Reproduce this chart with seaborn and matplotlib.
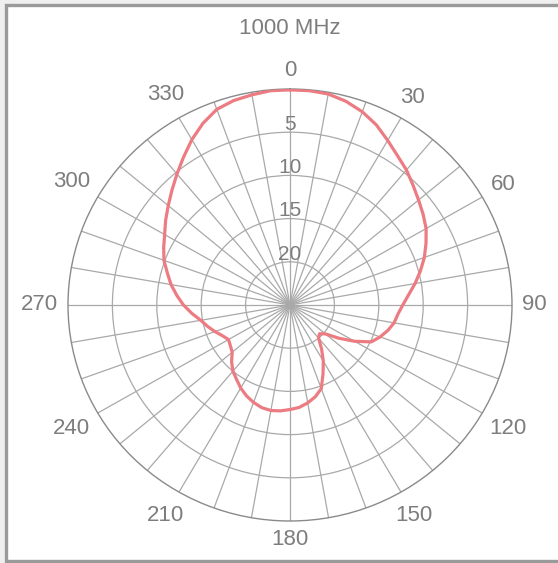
import matplotlib
matplotlib.use('Agg')
import matplotlib.pyplot as plt
import numpy as np
import pandas as pd
import seaborn as sns
from matplotlib.patches import Rectangle

# attenuation (dB below max), every 5 degrees
angles = list(range(0, 360, 5))
atten_db = [0.1, 0.1, 0.2, 0.6, 1.2, 2.0, 3.0, 3.9, 4.6, 5.4, 6.1, 6.7,
            7.3, 8.1, 8.9, 9.8, 10.7, 11.6, 12.3, 12.8, 13.1, 13.6, 14.2, 14.9,
            16.6, 18.3, 19.8, 20.3, 20.0, 18.8, 17.5, 16.2, 14.7, 14.0, 13.5, 13.1,
            12.9, 12.7, 12.6, 12.7, 13.0, 13.4, 13.9, 14.5, 15.0, 15.7, 16.5, 16.8,
            17.0, 16.6, 16.0, 15.4, 14.8, 13.9, 13.0, 12.2, 11.4, 10.7, 9.9, 9.3,
            8.7, 7.9, 7.1, 6.2, 5.2, 4.1, 2.9, 1.8, 0.9, 0.5, 0.3, 0.1]
ring_vals = [5, 10, 15, 20]
theta_labels = list(range(0, 360, 30))
title = '1000 MHz'

GREY = '#7d7d7d'
GRID = '#a9a9a9'
RED = '#ec7b82'

sns.set_theme(style='white')
plt.rcParams['font.family'] = ['Liberation Sans', 'DejaVu Sans']

# close the loop
df = pd.DataFrame({'theta': np.deg2rad(angles + [360]),
                   'db': atten_db + [atten_db[0]]})

fig = plt.figure(figsize=(5.58, 5.63), dpi=100, facecolor='#efefef')
fig.patches.append(Rectangle((6 / 558, 2 / 563), 1.2, 1 - 7 / 563,
                             transform=fig.transFigure, facecolor='white',
                             edgecolor='#9a9a9a', linewidth=2.4, zorder=-1))

# the source picture is a touch wider than tall, so let the polar box stretch
ax = fig.add_axes([68 / 558, 42 / 563, 444 / 558, 432 / 563], projection='polar')
ax.set_aspect('auto')
ax.set_facecolor('none')
ax.set_theta_zero_location('N')
ax.set_theta_direction(-1)

sns.lineplot(data=df, x='theta', y='db', ax=ax, color=RED, linewidth=2.3,
             sort=False, zorder=5)

ax.set_ylim(25, 0)
ax.set_thetagrids(range(0, 360, 10), labels=[''] * 36)
ax.set_rgrids(ring_vals, labels=[''] * len(ring_vals))
ax.grid(True, color=GRID, linewidth=0.9)
ax.spines['polar'].set_color('#8a8a8a')
ax.spines['polar'].set_linewidth(1.0)
ax.set_xlabel('')
ax.set_ylabel('')

# angle labels: fixed gap outside the rim, measured from the text box edge
px = 0.72  # points per pixel at 100 dpi
for a in theta_labels:
    t = np.deg2rad(a)
    s, c = np.sin(t), np.cos(t)
    w, h = 12.2 * len(str(a)), 17
    d = 10 + 0.5 * (w * abs(s) + h * abs(c))
    ax.annotate(str(a), xy=(t, 0), xytext=(d * s * px, d * c * px),
                textcoords='offset points', ha='center', va='center',
                fontsize=16, color=GREY, annotation_clip=False)

for v in ring_vals:
    ax.text(0, v + 0.2, str(v), ha='center', va='bottom', fontsize=15,
            color=GREY, zorder=6)

fig.text(290 / 558, 1 - 29 / 563, title, ha='center', va='center',
         fontsize=16, color=GREY)

fig.savefig('out.png', dpi=100, facecolor=fig.get_facecolor())
